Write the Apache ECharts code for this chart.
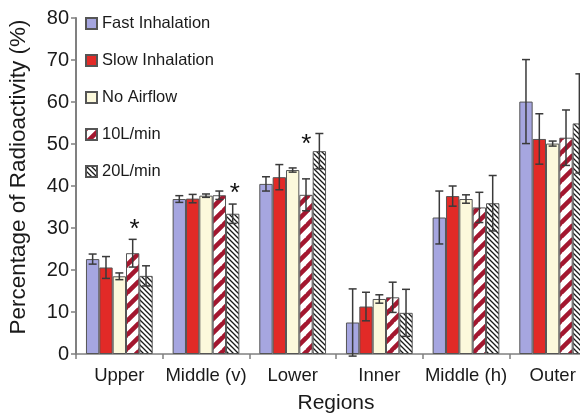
<!DOCTYPE html>
<html>
<head>
<meta charset="utf-8">
<script src="https://cdn.jsdelivr.net/npm/echarts@6/dist/echarts.min.js"></script>
<style>
  html, body { margin: 0; padding: 0; background: #ffffff; }
  #chart { width: 580px; height: 415px; }
</style>
</head>
<body>
<div id="chart"></div>
<script>
// Regions of the lung and deposition share per inhalation condition (mean ± error)
const categories = ['Upper', 'Middle (v)', 'Lower', 'Inner', 'Middle (h)', 'Outer'];
const seriesNames = ['Fast Inhalation', 'Slow Inhalation', 'No Airflow', '10L/min', '20L/min'];

const fastMean  = [22.6, 36.9, 40.5, 7.5, 32.5, 60.1];
const fastErr   = [1.2, 0.8, 1.7, 8.0, 6.3, 10.0];
const slowMean  = [20.6, 37.0, 42.1, 11.3, 37.6, 51.2];
const slowErr   = [2.6, 1.0, 3.0, 3.4, 2.4, 6.0];
const noAirMean = [18.5, 37.7, 43.8, 13.1, 36.9, 50.1];
const noAirErr  = [0.8, 0.4, 0.5, 1.0, 1.0, 0.6];
const l10Mean   = [24.0, 37.8, 37.9, 13.5, 34.9, 51.5];
const l10Err    = [3.3, 1.0, 3.8, 3.6, 3.6, 6.6];
const l20Mean   = [18.6, 33.4, 48.3, 9.8, 35.9, 54.9];
const l20Err    = [2.4, 2.3, 4.2, 5.6, 6.6, 11.8];

// Significant differences: [category index, series index]
const significant = [[0, 3], [1, 4], [2, 4]];

const yTicks = { min: 0, max: 80, interval: 10 };

const means = [fastMean, slowMean, noAirMean, l10Mean, l20Mean];
const errs  = [fastErr, slowErr, noAirErr, l10Err, l20Err];

const FONT = '"Liberation Sans", Arial, sans-serif';
const CAT_GAP = 0.23;

// Striped fills for the two flow-rate series
function stripes(size, lineW, color, dir) {
  const c = document.createElement('canvas');
  c.width = size; c.height = size;
  const g = c.getContext('2d');
  g.fillStyle = '#ffffff';
  g.fillRect(0, 0, size, size);
  g.strokeStyle = color;
  g.lineWidth = lineW;
  g.beginPath();
  for (let k = -1; k <= 1; k++) {
    if (dir === '/') {
      g.moveTo(k * size - 1, size + 1);
      g.lineTo(k * size + size + 1, -1);
    } else {
      g.moveTo(k * size - 1, -1);
      g.lineTo(k * size + size + 1, size + 1);
    }
  }
  g.stroke();
  return { image: c, repeat: 'repeat' };
}

const fills = [
  '#a6a6e0',
  '#e22a27',
  '#fcf9dc',
  stripes(14, 4.5, '#a3172f', '/'),
  stripes(5, 1.3, '#1a1a1a', '\\')
];

const barSeries = seriesNames.map((name, i) => ({
  name: name,
  type: 'bar',
  barGap: '0%',
  barCategoryGap: (CAT_GAP * 100) + '%',
  data: means[i],
  itemStyle: { color: fills[i], borderColor: '#555555', borderWidth: 1 },
  z: 2
}));

function barCenter(api, cat, si) {
  const band = api.size([1, 0])[0];
  const bw = band * (1 - CAT_GAP) / seriesNames.length;
  const c = api.coord([cat, 0])[0];
  return { x: c - band * (1 - CAT_GAP) / 2 + (si + 0.5) * bw, bw: bw };
}

const errData = [];
means.forEach((m, si) => {
  m.forEach((v, cat) => {
    errData.push([cat, si, v - errs[si][cat], v + errs[si][cat]]);
  });
});

const starData = significant.map(([cat, si]) => [cat, si, means[si][cat] + errs[si][cat]]);

const errorSeries = {
  type: 'custom',
  name: 'err',
  data: errData,
  encode: { x: 0, y: 3 },
  z: 5,
  silent: true,
  renderItem: function (params, api) {
    const cat = api.value(0), si = api.value(1);
    const lo = api.value(2), hi = api.value(3);
    const p = barCenter(api, cat, si);
    const yLo = api.coord([cat, lo])[1];
    const yHi = api.coord([cat, hi])[1];
    const cap = 4;
    const style = { stroke: '#3a3a3a', lineWidth: 1.5 };
    return {
      type: 'group',
      children: [
        { type: 'line', shape: { x1: p.x, y1: yLo, x2: p.x, y2: yHi }, style: style },
        { type: 'line', shape: { x1: p.x - cap, y1: yHi, x2: p.x + cap, y2: yHi }, style: style },
        { type: 'line', shape: { x1: p.x - cap, y1: yLo, x2: p.x + cap, y2: yLo }, style: style }
      ]
    };
  }
};

// Asterisks sit above the error bar; a tall bar gets its mark tucked to the left
const starSeries = {
  type: 'custom',
  name: 'sig',
  data: starData,
  encode: { x: 0, y: 2 },
  z: 6,
  silent: true,
  renderItem: function (params, api) {
    const cat = api.value(0), si = api.value(1), top = api.value(2);
    const p = barCenter(api, cat, si);
    const y = api.coord([cat, top])[1];
    const tall = top > 50;
    return {
      type: 'text',
      style: {
        x: tall ? p.x - 13 : p.x + 2,
        y: tall ? y + 24 : y + 3,
        text: '*',
        fill: '#111111', font: '26px ' + FONT,
        textAlign: 'center', textVerticalAlign: 'bottom'
      }
    };
  }
};

const chart = echarts.init(document.getElementById('chart'), null, { renderer: 'canvas' });
chart.setOption({
  animation: false,
  backgroundColor: '#ffffff',
  textStyle: { fontFamily: FONT },
  grid: {
    left: 76, width: 520, top: 18, bottom: 61,
    containLabel: false,
    outerBoundsMode: 'none'
  },
  legend: {
    data: seriesNames,
    orient: 'vertical',
    left: 85,
    top: 15,
    padding: 0,
    itemGap: 20,
    itemWidth: 11,
    itemHeight: 11,
    icon: 'rect',
    textStyle: { fontSize: 16.5, color: '#1a1a1a', fontFamily: FONT }
  },
  xAxis: {
    type: 'category',
    data: categories,
    name: 'Regions',
    nameLocation: 'middle',
    nameGap: 39,
    nameTextStyle: { fontSize: 21, color: '#1a1a1a', fontFamily: FONT },
    axisLine: { lineStyle: { color: '#808080', width: 1.5 } },
    axisTick: { show: true, alignWithLabel: false, length: 5, lineStyle: { color: '#808080', width: 1.5 } },
    axisLabel: { fontSize: 18.5, color: '#1a1a1a', margin: 12, interval: 0, fontFamily: FONT }
  },
  yAxis: {
    type: 'value',
    min: yTicks.min,
    max: yTicks.max,
    interval: yTicks.interval,
    name: 'Percentage of Radioactivity (%)',
    nameLocation: 'middle',
    nameGap: 46,
    nameTextStyle: { fontSize: 22.5, color: '#1a1a1a', fontFamily: FONT, padding: [0, 0, 0, 18] },
    axisLine: { show: true, lineStyle: { color: '#808080', width: 2 } },
    axisTick: { show: true, length: 5, lineStyle: { color: '#808080', width: 1.5 } },
    splitLine: { show: false },
    axisLabel: { fontSize: 20, color: '#1a1a1a', margin: 7, fontFamily: FONT }
  },
  series: barSeries.concat([errorSeries, starSeries])
});
</script>
</body>
</html>
